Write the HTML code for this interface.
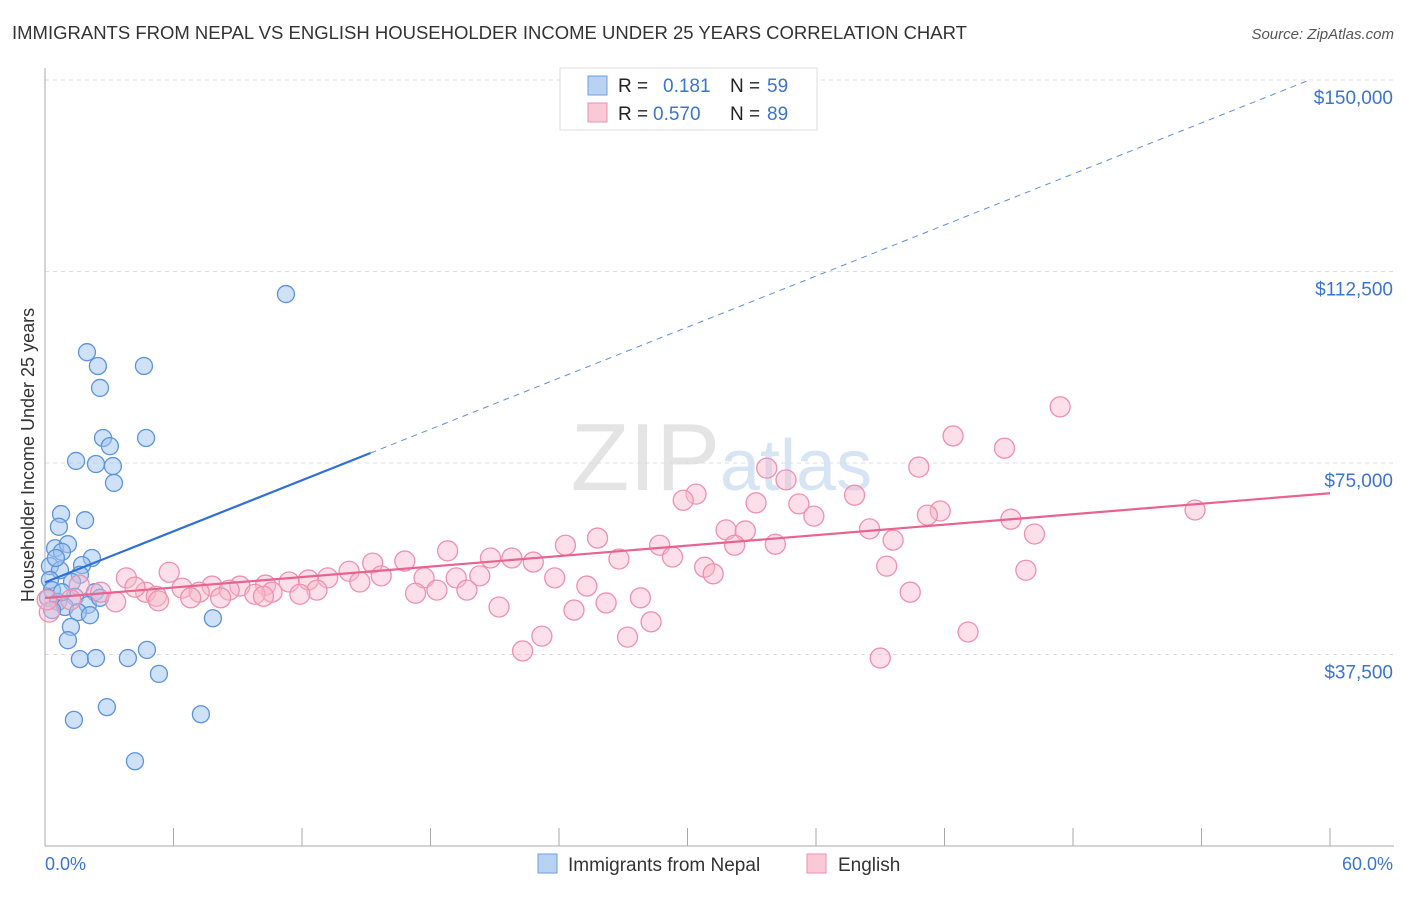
<!DOCTYPE html>
<html><head><meta charset="utf-8"><style>
body{margin:0;background:#fff;font-family:"Liberation Sans",sans-serif;}
svg text{font-family:"Liberation Sans",sans-serif;}
</style></head><body>
<svg id="chart" width="1406" height="892">
<text x="12" y="39" font-size="18.5" fill="#333">IMMIGRANTS FROM NEPAL VS ENGLISH HOUSEHOLDER INCOME UNDER 25 YEARS CORRELATION CHART</text>
<text x="1394" y="39" font-size="15" fill="#555" font-style="italic" text-anchor="end">Source: ZipAtlas.com</text>
<text x="720" y="490" font-size="96" fill="#e4e4e4" text-anchor="end" font-family="Liberation Serif">ZIP</text>
<text x="720" y="490" font-size="72" fill="#d6e4f4">atlas</text>
<g id="grid"></g>
<g id="axes"></g>
<g id="pts"></g>
<g id="lines"></g>
<text x="34" y="455" font-size="18" fill="#333" transform="rotate(-90 34 455)" text-anchor="middle">Householder Income Under 25 years</text>
<text x="45" y="870" font-size="18" fill="#3a74d0">0.0%</text>
<text x="1393" y="870" font-size="18" fill="#3a74d0" text-anchor="end">60.0%</text>
<g>
<rect x="560" y="68" width="257" height="62" fill="#fff" stroke="#ddd"/>
<rect x="588" y="76" width="19" height="19" fill="#b8d2f3" stroke="#6d9fe0"/>
<text x="618" y="92" font-size="19" fill="#222">R = </text><text x="663" y="92" font-size="19" fill="#3a74d0">0.181</text>
<text x="730" y="92" font-size="19" fill="#222">N = </text><text x="767" y="92" font-size="19" fill="#3a74d0">59</text>
<rect x="588" y="103" width="19" height="19" fill="#f9c9d7" stroke="#ec8fab"/>
<text x="618" y="120" font-size="19" fill="#222">R = </text><text x="653" y="120" font-size="19" fill="#3a74d0">0.570</text>
<text x="730" y="120" font-size="19" fill="#222">N = </text><text x="767" y="120" font-size="19" fill="#3a74d0">89</text>
</g>
<g>
<rect x="538" y="854" width="19" height="19" fill="#b8d2f3" stroke="#6d9fe0"/>
<text x="568" y="871" font-size="19" fill="#333">Immigrants from Nepal</text>
<rect x="807" y="854" width="19" height="19" fill="#f9c9d7" stroke="#ec8fab"/>
<text x="838" y="871" font-size="19" fill="#333">English</text>
</g>
</svg>
<script>
const yTicks=[37500,75000,112500,150000];
const yTickLabels=["$37,500","$75,000","$112,500","$150,000"];
const blueX=[11.25,1.96,2.47,4.62,2.57,2.71,4.72,3.03,1.45,2.38,3.17,3.22,0.75,1.87,0.65,0.47,1.07,0.79,2.19,1.73,0.23,0.70,1.63,0.23,1.26,0.33,0.14,1.40,2.33,0.61,0.93,2.0,1.54,2.10,7.84,1.21,1.07,4.76,1.63,2.38,3.87,5.32,2.89,1.35,7.28,4.20,0.33,0.79,2.57,0.51];
const blueY=[108080,96700,94000,94000,89700,79900,79900,78300,75400,74800,74400,71100,65000,63800,62500,58300,59100,57600,56400,55000,54800,54000,53100,52100,51700,50100,48600,48800,49700,47800,46800,47200,45800,45200,44600,42900,40300,38400,36600,36800,36800,33700,27200,24700,25800,16600,46200,49700,48600,56400];
const pinkX=[47.4,42.4,44.8,33.7,40.8,34.6,30.4,29.8,37.8,33.2,35.2,35.9,41.8,41.2,53.7,45.1,31.8,32.7,38.5,39.6,46.2,25.8,28.7,32.2,34.1,24.3,18.8,20.8,21.8,26.8,29.3,22.8,16.8,15.3,30.8,39.3,45.8,31.2,5.8,14.2,15.7,20.3,3.8,17.7,19.2,23.8,13.2,12.3,14.7,11.4,10.3,9.1,7.8,25.3,6.4,4.7,8.6,7.2,10.6,12.7,9.8,11.9,5.2,17.3,18.3,19.7,6.8,8.2,10.2,4.2,2.6,1.6,3.3,5.3,27.8,26.2,24.7,21.2,40.4,28.3,23.2,27.2,43.1,22.3,39.0,0.2,0.1,1.2];
const pinkY=[86000,80300,77900,74000,74200,71700,68900,67700,68700,67200,67000,64600,65600,64800,65800,64000,61900,61700,62100,59900,61100,60300,58900,58900,59100,58900,57800,56400,56400,56200,56600,55600,55800,55400,54600,54800,54000,53300,53600,53800,52900,52900,52500,52500,52500,52500,52500,52100,51700,51700,51100,50900,50900,50900,50500,49700,50100,49700,49700,50100,49300,49300,48900,49500,50100,50100,48600,48600,48900,50700,49700,51100,47800,48000,48600,47600,46200,46800,49700,43900,41100,40900,41900,38200,36800,45800,48200,48200];
const blueTrend=[51630,1666];   // intercept, slope per %
const pinkTrend=[48560,342];
const NS="http://www.w3.org/2000/svg";
const X=p=>45+p/60*1285, Y=v=>846-v/150000*766;
function mk(tag,attrs,parent){const e=document.createElementNS(NS,tag);for(const k in attrs)e.setAttribute(k,attrs[k]);document.getElementById(parent).appendChild(e);return e;}
yTicks.forEach((t,i)=>{
 const l=mk('line',{x1:45,x2:1394,y1:Y(t),y2:Y(t),stroke:'#ddd','stroke-dasharray':'4,4'},'grid');
 
 
 const tx=mk('text',{x:1393,y:Y(t)+24,'font-size':19,fill:'#3a74d0','text-anchor':'end'},'grid');
 tx.textContent=yTickLabels[i];
 
 
});
const ax=mk('line',{x1:45,x2:45,y1:68,y2:846,stroke:'#aaa'},'axes');


const bx=mk('line',{x1:45,x2:1394,y1:846,y2:846,stroke:'#aaa'},'axes');


for(let i=0;i<=10;i++){const t=mk('line',{x1:X(i*6),x2:X(i*6),y1:828,y2:846,stroke:'#aaa'},'axes');
 
 }
blueX.forEach((x,i)=>{const c=mk('circle',{cx:X(x),cy:Y(blueY[i]),r:8.5,fill:'rgba(160,196,240,0.5)',stroke:'#5b93dc','stroke-width':1.3},'pts');
 
 });
pinkX.forEach((x,i)=>{const c=mk('circle',{cx:X(x),cy:Y(pinkY[i]),r:10,fill:'rgba(248,184,204,0.45)',stroke:'#ee90ae','stroke-width':1.3},'pts');
 
 });
const bs=mk('line',{x1:X(0),y1:Y(blueTrend[0]),x2:X(15.2),y2:Y(blueTrend[0]+blueTrend[1]*15.2),stroke:'#2f6fd6','stroke-width':2.2},'lines');


const bd=mk('line',{x1:X(15.2),y1:Y(blueTrend[0]+blueTrend[1]*15.2),x2:X(59.1),y2:Y(blueTrend[0]+blueTrend[1]*59.1),stroke:'#5b8fdc','stroke-width':1,'stroke-dasharray':'6,5'},'lines');


const pl=mk('line',{x1:X(0),y1:Y(pinkTrend[0]),x2:X(60),y2:Y(pinkTrend[0]+pinkTrend[1]*60),stroke:'#e8638f','stroke-width':2.2},'lines');


</script>
</body></html>
